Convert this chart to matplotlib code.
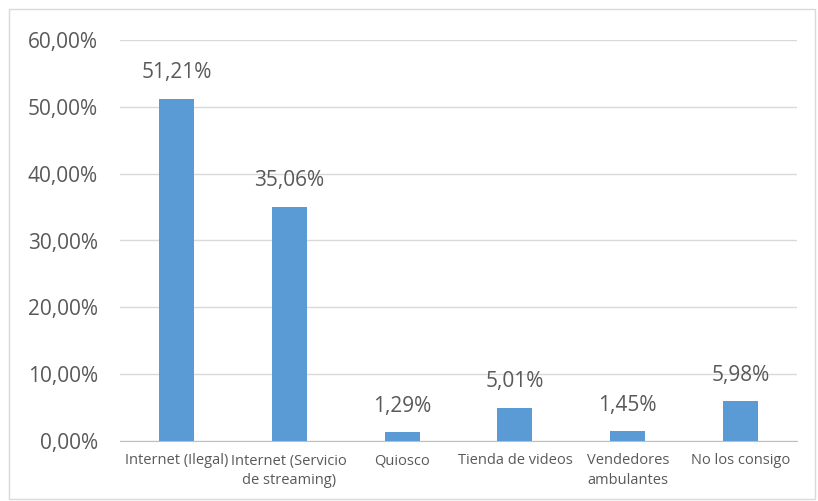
import matplotlib
matplotlib.use("Agg")
import matplotlib.pyplot as plt
from matplotlib.patches import Rectangle
from matplotlib.ticker import FuncFormatter

categories = ["Internet (Ilegal)", "Internet (Servicio\nde streaming)", "Quiosco",
              "Tienda de videos", "Vendedores\nambulantes", "No los consigo"]
values = [51.21, 35.06, 1.29, 5.01, 1.45, 5.98]
yticks = [0, 10, 20, 30, 40, 50, 60]

plt.rcParams['font.family'] = ['Open Sans', 'DejaVu Sans']
text_color = '#595959'
bar_color = '#5B9BD5'

fig = plt.figure(figsize=(8.18, 5.01), dpi=100)
ax = fig.add_axes([120 / 818, 60 / 501, 677 / 818, 401 / 501])

x = list(range(len(categories)))
ax.bar(x, values, width=0.31, color=bar_color, zorder=3)
for xi, v in zip(x, values):
    ax.annotate(f"{v:.2f}%".replace('.', ','), (xi, v), xytext=(0, 11),
                textcoords='offset points', ha='center', va='bottom',
                fontsize=15, color=text_color)

ax.set_xlim(-0.5, len(categories) - 0.5)
ax.set_ylim(0, 60)
ax.set_yticks(yticks)
ax.yaxis.set_major_formatter(FuncFormatter(lambda v, p: f"{v:.2f}%".replace('.', ',')))
ax.set_xticks(x)
ax.set_xticklabels(categories, fontsize=10.5, color=text_color, linespacing=1.45)
ax.tick_params(axis='y', length=0, labelsize=15, labelcolor=text_color, pad=16)
ax.tick_params(axis='x', length=0, pad=9)
ax.grid(axis='y', color='#D9D9D9', linewidth=1, zorder=0)
for s in ['top', 'right', 'left']:
    ax.spines[s].set_visible(False)
ax.spines['bottom'].set_color('#BFBFBF')

fig.patches.append(Rectangle((9 / 818, 2 / 501), 806 / 818, 490 / 501, transform=fig.transFigure,
                             fill=False, edgecolor='#D9D9D9', linewidth=1))

fig.savefig("out.png", dpi=100)
